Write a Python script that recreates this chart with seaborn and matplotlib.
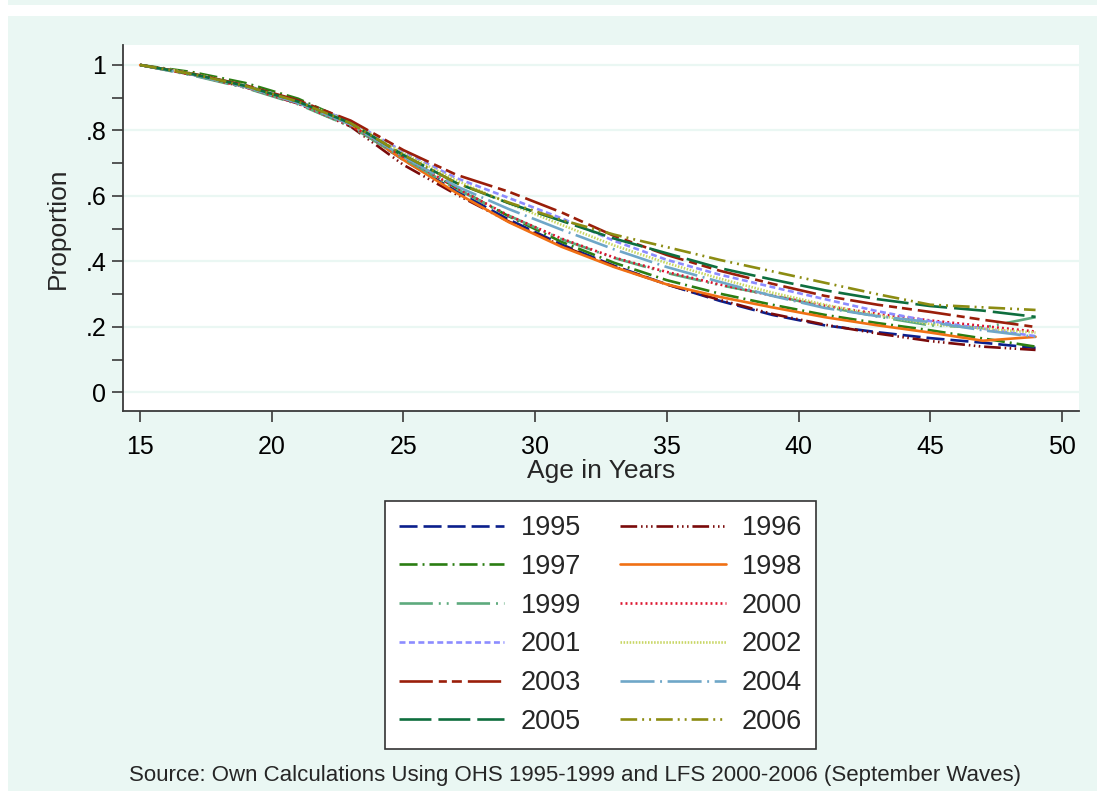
import matplotlib
matplotlib.use("Agg")
import matplotlib.pyplot as plt
from matplotlib.patches import Rectangle
import numpy as np
import pandas as pd
import seaborn as sns

# Proportion remaining never married, by single age, for each survey year
ages = [15, 17, 19, 21, 23, 25, 27, 29, 31, 33, 35, 37, 39, 41, 43, 45, 47, 49]

y1995 = [1.000, 0.972, 0.935, 0.885, 0.818, 0.710, 0.615, 0.528, 0.452, 0.387, 0.330, 0.280, 0.237, 0.205, 0.184, 0.166, 0.152, 0.136]
y1996 = [1.000, 0.970, 0.932, 0.882, 0.812, 0.695, 0.605, 0.522, 0.448, 0.385, 0.330, 0.283, 0.240, 0.207, 0.180, 0.157, 0.140, 0.130]
y1997 = [1.000, 0.978, 0.945, 0.897, 0.825, 0.720, 0.625, 0.538, 0.460, 0.396, 0.343, 0.302, 0.268, 0.237, 0.212, 0.190, 0.165, 0.140]
y1998 = [1.000, 0.973, 0.935, 0.886, 0.818, 0.710, 0.610, 0.520, 0.445, 0.383, 0.330, 0.292, 0.260, 0.230, 0.205, 0.183, 0.158, 0.170]
y1999 = [1.000, 0.968, 0.930, 0.880, 0.812, 0.715, 0.622, 0.540, 0.468, 0.411, 0.365, 0.328, 0.297, 0.262, 0.232, 0.205, 0.198, 0.230]
y2000 = [1.000, 0.970, 0.932, 0.882, 0.815, 0.720, 0.625, 0.540, 0.470, 0.412, 0.368, 0.330, 0.296, 0.265, 0.240, 0.220, 0.203, 0.186]
y2001 = [1.000, 0.973, 0.938, 0.890, 0.828, 0.735, 0.655, 0.594, 0.532, 0.463, 0.405, 0.360, 0.322, 0.285, 0.248, 0.218, 0.195, 0.172]
y2002 = [1.000, 0.974, 0.938, 0.890, 0.826, 0.730, 0.648, 0.577, 0.512, 0.449, 0.395, 0.348, 0.305, 0.268, 0.236, 0.209, 0.195, 0.183]
y2003 = [1.000, 0.973, 0.938, 0.892, 0.830, 0.740, 0.665, 0.613, 0.550, 0.478, 0.420, 0.372, 0.332, 0.295, 0.268, 0.246, 0.222, 0.200]
y2004 = [1.000, 0.970, 0.933, 0.884, 0.818, 0.720, 0.630, 0.560, 0.497, 0.437, 0.383, 0.338, 0.295, 0.258, 0.233, 0.215, 0.190, 0.170]
y2005 = [1.000, 0.972, 0.936, 0.888, 0.822, 0.725, 0.640, 0.578, 0.524, 0.470, 0.425, 0.380, 0.345, 0.312, 0.285, 0.264, 0.250, 0.231]
y2006 = [1.000, 0.972, 0.936, 0.888, 0.822, 0.725, 0.640, 0.580, 0.527, 0.482, 0.444, 0.405, 0.370, 0.335, 0.300, 0.268, 0.260, 0.252]

years = ["1995", "1996", "1997", "1998", "1999", "2000",
         "2001", "2002", "2003", "2004", "2005", "2006"]
series = [y1995, y1996, y1997, y1998, y1999, y2000,
          y2001, y2002, y2003, y2004, y2005, y2006]

x_ticks = [15, 20, 25, 30, 35, 40, 45, 50]
y_ticks = [0, 0.2, 0.4, 0.6, 0.8, 1.0]
y_tick_labels = ["0", ".2", ".4", ".6", ".8", "1"]

colors = {
    "1995": "#0B1F8C", "1996": "#7A0A0A", "1997": "#2B7D12", "1998": "#F07014",
    "1999": "#5DAA7D", "2000": "#DC1430", "2001": "#8C8CFF", "2002": "#C8D664",
    "2003": "#9A1E0A", "2004": "#6FA7C8", "2005": "#0E6E3E", "2006": "#8C8C12",
}
# dash patterns in points (not scaled by line width)
dashes = {
    "1995": (13, 4.3),
    "1996": (12, 2.8, 1.1, 2.5, 1.1, 2.5, 1.1, 2.8),
    "1997": (13, 3.6, 1.4, 3.6),
    "1998": "",
    "1999": (24, 4.3, 1.4, 4.3, 1.4, 5.8),
    "2000": (1.4, 2.2),
    "2001": (4.3, 2.5),
    "2002": (1.1, 1.1),
    "2003": (24, 4.3, 5.8, 3.6, 7.2, 4.3),
    "2004": (24.5, 4, 1.4, 4),
    "2005": (23, 5),
    "2006": (12, 3.6, 1.4, 3.6, 1.4, 3.6),
}

df = pd.DataFrame(
    [(a, v, yr) for yr, vals in zip(years, series) for a, v in zip(ages, vals)],
    columns=["age", "proportion", "year"],
)

sns.set_theme(style="white")
BG = "#EAF7F3"
plt.rcParams["font.family"] = ["Liberation Sans", "DejaVu Sans"]
plt.rcParams["lines.scale_dashes"] = False

W, H = 1097, 791
fig = plt.figure(figsize=(W / 100, H / 100), dpi=100, facecolor="white")

# graph region background
fig.patches.append(Rectangle((8 / W, 0), 1 - 8 / W, 1 - 16 / H,
                             transform=fig.transFigure, facecolor=BG,
                             edgecolor="none", zorder=-10))
fig.patches.append(Rectangle((8 / W, 1 - 5 / H), 1 - 8 / W, 5 / H,
                             transform=fig.transFigure, facecolor=BG,
                             edgecolor="none", zorder=-10))

ax = fig.add_axes([123 / W, 1 - 411 / H, (1079 - 123) / W, (411 - 45) / H])
ax.set_facecolor("white")

sns.lineplot(data=df, x="age", y="proportion", hue="year", style="year",
             hue_order=years, style_order=years, palette=colors,
             dashes=dashes, linewidth=1.9, errorbar=None, ax=ax, legend=True)

ax.set_xlim(14.35, 50.65)
ax.set_ylim(-0.0565, 1.061)
ax.set_xticks(x_ticks)
ax.set_xticklabels([str(t) for t in x_ticks])
ax.set_yticks(y_ticks)
ax.set_yticklabels(y_tick_labels)
ax.set_yticks([0.1, 0.3, 0.5, 0.7, 0.9], minor=True)

ax.grid(axis="y", which="major", color=BG, linewidth=1.6)
ax.set_axisbelow(True)
for s in ["top", "right"]:
    ax.spines[s].set_visible(False)
for s in ["left", "bottom"]:
    ax.spines[s].set_color("#3a3a3a")
    ax.spines[s].set_linewidth(1.3)

ax.tick_params(axis="x", which="major", direction="out", length=8,
               width=1.2, color="#3a3a3a", labelsize=18, labelcolor="black",
               bottom=True, pad=9)
ax.tick_params(axis="y", which="major", direction="out", length=8,
               width=1.2, color="#3a3a3a", labelsize=18, labelcolor="black",
               left=True, pad=4)
ax.tick_params(axis="y", which="minor", direction="out", length=8,
               width=1.2, color="#3a3a3a", left=True)

ax.set_xlabel("Age in Years", fontsize=19, labelpad=0)
ax.set_ylabel("Proportion", fontsize=19, labelpad=11)

handles, labels = ax.get_legend_handles_labels()
ax.get_legend().remove()
hmap = dict(zip(labels, handles))
order = years[0::2] + years[1::2]
leg = fig.legend([hmap[k] for k in order], order, loc="upper center",
                 bbox_to_anchor=(600.5 / W, 1 - 501 / H), ncol=2,
                 fontsize=19.5, frameon=True, fancybox=False,
                 handlelength=3.9, handletextpad=0.6, columnspacing=1.45,
                 labelspacing=0.47, borderpad=0.52, borderaxespad=0)
leg.get_frame().set_edgecolor("#333333")
leg.get_frame().set_linewidth(1.2)
leg.get_frame().set_facecolor("white")
leg.get_frame().set_alpha(1)

fig.text(575 / W, 1 - 775 / H,
         "Source: Own Calculations Using OHS 1995-1999 and LFS 2000-2006 (September Waves)",
         ha="center", va="center", fontsize=16)

fig.savefig("out.png", dpi=100, facecolor="white")
